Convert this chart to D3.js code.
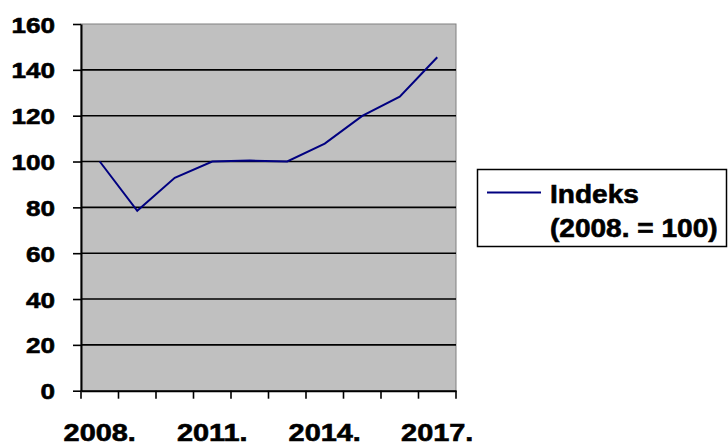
<!DOCTYPE html>
<html>
<head>
<meta charset="utf-8">
<script src="https://cdn.jsdelivr.net/npm/d3@7/dist/d3.min.js"></script>
<style>
  html, body { margin: 0; padding: 0; background: #ffffff; }
  svg { display: block; }
  text { font-family: "Liberation Sans", Arial, sans-serif; font-weight: bold; fill: #000; stroke: #000; stroke-width: 0.6px; }
</style>
</head>
<body>
<svg id="chart" width="728" height="448"></svg>
<script>
// Index values by year, 2008 = 100
const years = ["2008.", "2009.", "2010.", "2011.", "2012.", "2013.", "2014.", "2015.", "2016.", "2017."];
const indexValues = [100, 78.5, 92.9, 100, 100.4, 100, 107.8, 119.9, 128.3, 145.5];
const yTicks = [0, 20, 40, 60, 80, 100, 120, 140, 160];
const xLabelYears = ["2008.", "2011.", "2014.", "2017."];
const seriesName = ["Indeks", "(2008. = 100)"];

const svg = d3.select("#chart");
const plot = { left: 81, right: 456, top: 24, bottom: 390.7 };

const x = d3.scaleBand().domain(years).range([plot.left, plot.right]).padding(0);
const y = d3.scaleLinear().domain([0, 160]).range([plot.bottom, plot.top]);

// plot background
svg.append("rect")
  .attr("x", plot.left).attr("y", plot.top)
  .attr("width", plot.right - plot.left).attr("height", plot.bottom - plot.top)
  .attr("fill", "#c0c0c0").attr("stroke", "#808080").attr("stroke-width", 1);

// horizontal gridlines
svg.append("g").selectAll("line")
  .data(yTicks.filter(d => d > 0 && d < 160))
  .join("line")
  .attr("x1", plot.left).attr("x2", plot.right)
  .attr("y1", d => y(d)).attr("y2", d => y(d))
  .attr("stroke", "#000").attr("stroke-width", 1.6);

// y axis
const sxY = 1.16;
const yAxis = svg.append("g")
  .attr("transform", `translate(${plot.left},0)`)
  .call(d3.axisLeft(y).tickValues(yTicks).tickSize(8).tickSizeOuter(0));
yAxis.select(".domain").attr("stroke", "#000").attr("stroke-width", 2);
yAxis.selectAll(".tick line").attr("stroke", "#000").attr("stroke-width", 1.6);
yAxis.selectAll(".tick text")
  .attr("font-size", 22.5)
  .attr("font-family", "'Liberation Sans', Arial, sans-serif")
  .attr("font-weight", "bold")
  .attr("x", -26 / sxY)
  .attr("dy", "0.36em")
  .attr("transform", `scale(${sxY},1)`);

// x axis: labels at band centres
const sxX = 1.18;
const xAxis = svg.append("g")
  .attr("transform", `translate(0,${plot.bottom})`)
  .call(d3.axisBottom(x).tickValues(xLabelYears).tickSize(0).tickSizeOuter(0));
xAxis.select(".domain").attr("stroke", "#000").attr("stroke-width", 2);
xAxis.selectAll(".tick text")
  .attr("font-size", 24.5)
  .attr("font-family", "'Liberation Sans', Arial, sans-serif")
  .attr("font-weight", "bold")
  .attr("y", 50)
  .attr("dy", 0)
  .attr("transform", `scale(${sxX},1)`);

// x tick marks at category boundaries
const edges = years.map(d => x(d)).concat([x.range()[1]]);
svg.append("g").selectAll("line")
  .data(edges)
  .join("line")
  .attr("x1", d => d).attr("x2", d => d)
  .attr("y1", plot.bottom).attr("y2", plot.bottom + 8)
  .attr("stroke", "#000").attr("stroke-width", 1.6);

// series line
const line = d3.line()
  .x((d, i) => x(years[i]) + x.bandwidth() / 2)
  .y(d => y(d));
svg.append("path")
  .datum(indexValues)
  .attr("d", line)
  .attr("fill", "none")
  .attr("stroke", "#000080")
  .attr("stroke-width", 2)
  .attr("stroke-linejoin", "miter");

// legend
const legend = svg.append("g");
legend.append("rect")
  .attr("x", 477.5).attr("y", 169.5)
  .attr("width", 249).attr("height", 77)
  .attr("fill", "#fff").attr("stroke", "#000").attr("stroke-width", 1.5);
legend.append("line")
  .attr("x1", 487).attr("x2", 541)
  .attr("y1", 192.5).attr("y2", 192.5)
  .attr("stroke", "#000080").attr("stroke-width", 2);
const sxL = 1.1;
legend.selectAll("text")
  .data(seriesName)
  .join("text")
  .attr("font-size", 25.5)
  .attr("transform", (d, i) => `translate(550,${i === 0 ? 203.3 : 236.7}) scale(${sxL},1)`)
  .text(d => d);
</script>
</body>
</html>
